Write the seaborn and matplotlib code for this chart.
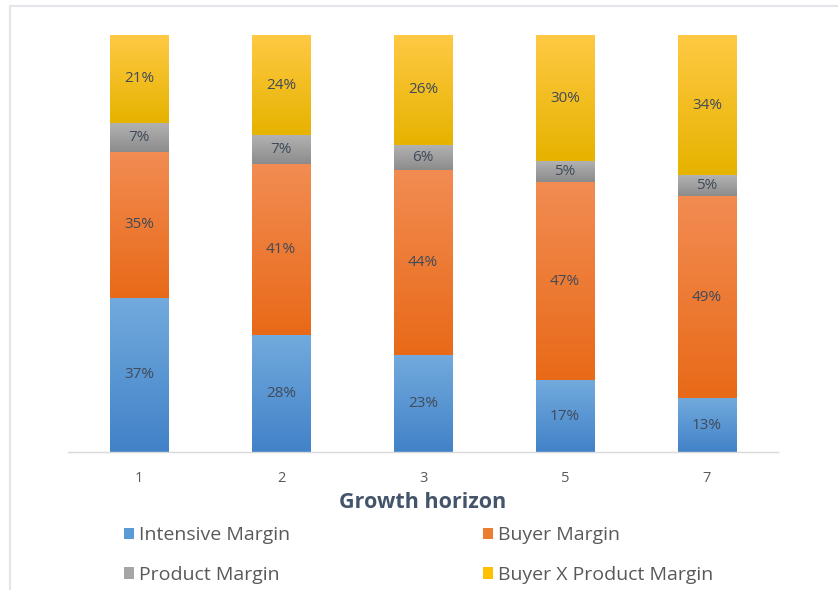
import numpy as np
import pandas as pd
import seaborn as sns
import matplotlib.pyplot as plt
from matplotlib.colors import LinearSegmentedColormap
from matplotlib.patches import Rectangle, Patch

# data (percent of growth, per horizon)
horizons = ["1", "2", "3", "5", "7"]
intensive = [37, 28, 23, 17, 13]
buyer = [35, 41, 44, 47, 49]
product = [7, 7, 6, 5, 5]
buyer_x_product = [21, 24, 26, 30, 34]

series_names = ["Intensive Margin", "Buyer Margin", "Product Margin", "Buyer X Product Margin"]
series_vals = [intensive, buyer, product, buyer_x_product]
base_colors = ["#5B9BD5", "#ED7D31", "#A5A5A5", "#FFC000"]
# (top, bottom) shades for the excel-like gradient
grad_colors = [("#72AADD", "#4282C8"), ("#F28C52", "#E86A18"),
               ("#B3B3B3", "#8C8C8C"), ("#FFC944", "#E6B300")]

df = pd.DataFrame(dict(zip(series_names, series_vals)), index=horizons)
shares = df.div(df.sum(axis=1), axis=0) * 100  # 100% stacked

sns.set_style("white")
plt.rcParams["font.family"] = ["Open Sans", "DejaVu Sans"]

fig = plt.figure(figsize=(8.38, 5.9), dpi=100)
ax = fig.add_axes([68 / 838, 138 / 590, 710 / 838, 417 / 590])

# faint chart-area border
fig.patches.append(Rectangle((10 / 838, -0.05), 1.0, (590 - 6) / 590 + 0.05,
                             transform=fig.transFigure, fill=False,
                             edgecolor="#E2E6EA", linewidth=1.5))

grad = np.linspace(0, 1, 100).reshape(-1, 1)
bottom = np.zeros(len(horizons))
for k, name in enumerate(series_names):
    vals = shares[name].values
    n_before = len(ax.patches)
    sns.barplot(x=horizons, y=vals, ax=ax, color=base_colors[k],
                width=0.41, bottom=bottom, saturation=1, linewidth=0, errorbar=None)
    top_c, bot_c = grad_colors[k]
    cmap = LinearSegmentedColormap.from_list(name, [bot_c, top_c])
    for i, p in enumerate(ax.patches[n_before:]):
        x0, w = p.get_x(), p.get_width()
        im = ax.imshow(grad, cmap=cmap, aspect="auto", origin="lower",
                       extent=(x0, x0 + w, bottom[i], bottom[i] + vals[i]), zorder=2)
        im.set_clip_path(p)
        ax.text(x0 + w / 2, bottom[i] + vals[i] / 2, f"{series_vals[k][i]}%",
                ha="center", va="center", fontsize=11, color="#404A58", zorder=3)
    bottom = bottom + vals

ax.set_xlim(-0.5, 4.5)
ax.set_ylim(0, 100)
ax.set_yticks([])
for s in ["top", "right", "left"]:
    ax.spines[s].set_visible(False)
ax.spines["bottom"].set_color("#D9D9D9")
ax.spines["bottom"].set_linewidth(1)
ax.tick_params(axis="x", length=0, pad=14, labelsize=10.5, labelcolor="#595959")
ax.set_xlabel("Growth horizon", fontsize=15.5, fontweight="bold", color="#44546A", labelpad=4)

# legend filled row by row like excel
order = [0, 2, 1, 3]
handles = [Patch(facecolor=base_colors[i], edgecolor="none") for i in order]
fig.legend(handles, [series_names[i] for i in order], loc="upper left",
           bbox_to_anchor=(106 / 838, 1 - 509 / 590),
           ncol=2, frameon=False, fontsize=14, labelcolor="#595959", handlelength=0.55,
           handleheight=0.55, handletextpad=0.25, columnspacing=9.9, labelspacing=1.1)

fig.savefig("out.png", dpi=100)
